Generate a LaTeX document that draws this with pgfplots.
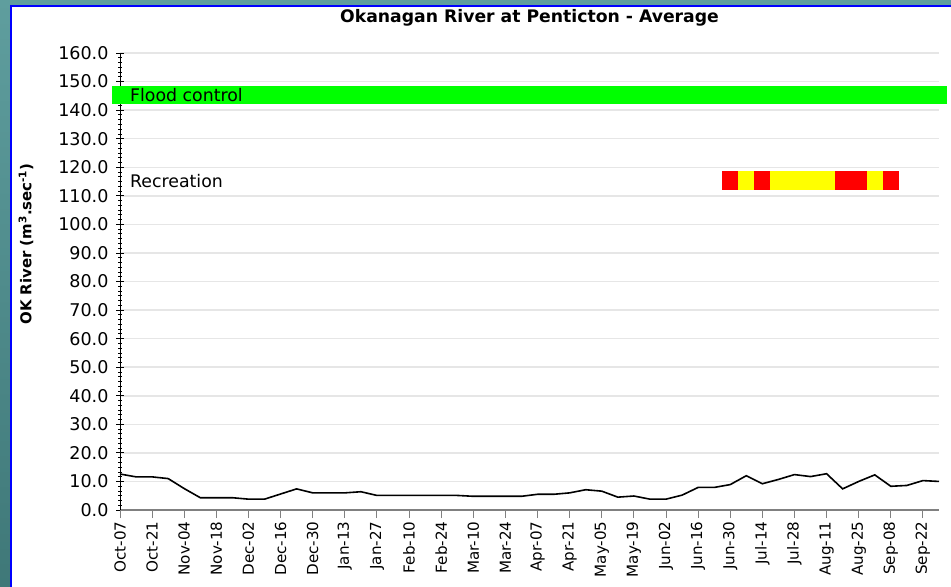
\documentclass[border=0pt]{standalone}
\usepackage{pgfplots}
\pgfplotsset{compat=1.18}
\usepackage{fontspec}
\setmainfont{DejaVu Sans}
\definecolor{teal1}{HTML}{5F9E9E}
\definecolor{teal2}{HTML}{3F7878}
\definecolor{gridgray}{HTML}{E6E6E6}
\definecolor{axgray}{HTML}{808080}
\definecolor{fgreen}{HTML}{00FF00}
\definecolor{fred}{HTML}{FF0000}
\definecolor{fyellow}{HTML}{FFFF00}

\pgfplotstableread{
w q
0 12.6
1 11.6
2 11.6
3 11.0
4 7.5
5 4.3
6 4.3
7 4.3
8 3.8
9 3.8
10 5.6
11 7.4
12 6.0
13 6.0
14 6.0
15 6.4
16 5.1
17 5.1
18 5.1
19 5.1
20 5.1
21 5.1
22 4.8
23 4.8
24 4.8
25 4.8
26 5.5
27 5.5
28 6.0
29 7.1
30 6.6
31 4.5
32 4.9
33 3.8
34 3.8
35 5.2
36 7.9
37 7.9
38 8.9
39 12.0
40 9.2
41 10.7
42 12.4
43 11.7
44 12.7
45 7.4
46 10.0
47 12.3
48 8.3
49 8.6
50 10.3
51 10.0
}\flowdata

\begin{document}
\begin{tikzpicture}
\path[use as bounding box] (0bp,0bp) rectangle (951bp,-587bp);
\shade[top color=teal1, bottom color=teal2] (0bp,0bp) rectangle (951bp,-587bp);
\fill[white] (11bp,-6bp) rectangle (951bp,-587bp);
\draw[blue, line width=2bp] (11bp,-587bp) -- (11bp,-6bp) -- (951bp,-6bp);
\begin{axis}[
  at={(120bp,-510bp)}, anchor=south west,
  scale only axis, width=819bp, height=457bp,
  xmin=0, xmax=51, ymin=0, ymax=160,
  clip=false,
  axis lines*=left,
  x axis line style={axgray, line width=1.5bp, -},
  y axis line style={black, line width=1bp, -},
  xtick={0,2,...,50},
  xticklabels={Oct-07,Oct-21,Nov-04,Nov-18,Dec-02,Dec-16,Dec-30,Jan-13,Jan-27,Feb-10,Feb-24,Mar-10,Mar-24,Apr-07,Apr-21,May-05,May-19,Jun-02,Jun-16,Jun-30,Jul-14,Jul-28,Aug-11,Aug-25,Sep-08,Sep-22},
  xticklabel style={rotate=90, anchor=east, font=\fontsize{15.2}{16}\selectfont},
  x tick style={axgray, line width=1bp},
  ytick={0,10,...,160},
  minor y tick num=5,
  y tick style={black, line width=0.8bp},
  tick align=center,
  xtick align=outside,
  major tick length=8bp,
  minor tick length=4bp,
  yticklabel style={xshift=-4bp, font=\fontsize{17.6}{19}\selectfont, /pgf/number format/.cd, fixed, fixed zerofill, precision=1, assume math mode=true},
  ymajorgrids,
  major grid style={gridgray, line width=1.5bp},
  title={Okanagan River at Penticton - Average},
  title style={at={(0.5,1)}, anchor=base, yshift=25bp, font=\fontsize{17.3}{19}\selectfont\bfseries},
  ylabel={OK River (m\textsuperscript{3}.sec\textsuperscript{-1})},
  ylabel style={at={(rel axis cs:-0.1148,0.582)}, anchor=center, font=\fontsize{15}{17}\selectfont\bfseries},
]
\addplot[fill=fgreen, draw=none] coordinates {(-0.5,142.2) (51.5,142.2) (51.5,148.5) (-0.5,148.5)};
\addplot[fill=fyellow, draw=none] coordinates {(38.5,112) (47.5,112) (47.5,118.7) (38.5,118.7)};
\addplot[fill=fred, draw=none] coordinates {(37.5,112) (38.5,112) (38.5,118.7) (37.5,118.7)};
\addplot[fill=fred, draw=none] coordinates {(39.5,112) (40.5,112) (40.5,118.7) (39.5,118.7)};
\addplot[fill=fred, draw=none] coordinates {(44.5,112) (46.5,112) (46.5,118.7) (44.5,118.7)};
\addplot[fill=fred, draw=none] coordinates {(47.5,112) (48.5,112) (48.5,118.7) (47.5,118.7)};
\addplot[black, line width=1.6bp, mark=none] table[x=w, y=q] {\flowdata};
\node[anchor=west, font=\fontsize{17.4}{19}\selectfont, inner sep=0pt] at (axis cs:0.62,145.3) {Flood control};
\node[anchor=west, font=\fontsize{17.4}{19}\selectfont, inner sep=0pt] at (axis cs:0.62,115.3) {Recreation};
\end{axis}
\end{tikzpicture}
\end{document}
